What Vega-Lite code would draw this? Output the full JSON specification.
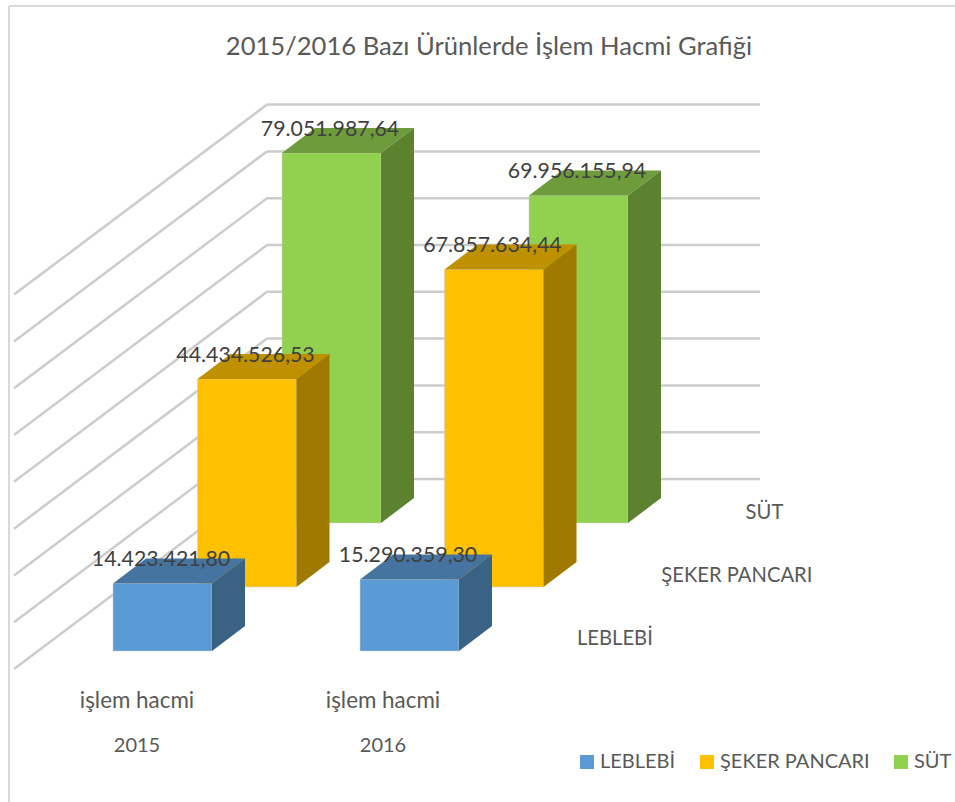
{"$schema":"https://vega.github.io/schema/vega-lite/v6.json","width":955,"height":802,"padding":0,"autosize":{"type":"none"},"background":"white",
"title":{"text":"2015/2016 Bazı Ürünlerde İşlem Hacmi Grafiği","anchor":"middle","frame":"group","dx":11.5,"dy":77,"font":"Lato","fontSize":25.6,"fontWeight":"normal","color":"#595959","baseline":"middle"},
"config":{"view":{"stroke":null}},
"datasets":{
"bars":[{"year":2015,"product":"SÜT","value":79051987.64},{"year":2016,"product":"SÜT","value":69956155.94},{"year":2015,"product":"ŞEKER PANCARI","value":44434526.53},{"year":2016,"product":"ŞEKER PANCARI","value":67857634.44},{"year":2015,"product":"LEBLEBİ","value":14423421.80},{"year":2016,"product":"LEBLEBİ","value":15290359.30}],
"grid":[{"v":0},{"v":10000000},{"v":20000000},{"v":30000000},{"v":40000000},{"v":50000000},{"v":60000000},{"v":70000000},{"v":80000000}],
"cats":[{"year":2015,"measure":"işlem hacmi"},{"year":2016,"measure":"işlem hacmi"}],
"prods":[{"product":"LEBLEBİ"},{"product":"ŞEKER PANCARI"},{"product":"SÜT"}]
},
"resolve":{"scale":{"color":"independent"}},
"layer":[
{"data":{"values":[{"a":0}]},"mark":{"type":"rule","color":"#D9D9D9","strokeWidth":2},"encoding":{"x":{"datum":9,"type":"quantitative","scale":{"domain":[0,955],"range":[0,955],"nice":false,"zero":false},"axis":null},"y":{"datum":137800000,"type":"quantitative","scale":{"domain":[-32260000,139100000],"range":[802,0],"nice":false,"zero":false},"axis":null},"y2":{"datum":-32260000}}},
{"data":{"values":[{"a":0}]},"mark":{"type":"rule","color":"#D9D9D9","strokeWidth":2},"encoding":{"x":{"datum":9,"type":"quantitative"},"x2":{"datum":955},"y":{"datum":137800000,"type":"quantitative"}}},
{"data":{"name":"grid"},"transform":[{"calculate":"datum.v-3850000","as":"ya"},{"calculate":"datum.v+36750000","as":"yb"},{"calculate":"14","as":"xa"},{"calculate":"267","as":"xb"}],"mark":{"type":"rule","color":"#CCCCCC","strokeWidth":2.5},"encoding":{"x":{"field":"xa","type":"quantitative"},"x2":{"field":"xb"},"y":{"field":"ya","type":"quantitative"},"y2":{"field":"yb"}}},
{"data":{"name":"grid"},"transform":[{"calculate":"datum.v+36750000","as":"yb"},{"calculate":"267","as":"xb"},{"calculate":"760","as":"xc"}],"mark":{"type":"rule","color":"#CCCCCC","strokeWidth":2.5},"encoding":{"x":{"field":"xb","type":"quantitative"},"x2":{"field":"xc"},"y":{"field":"yb","type":"quantitative"}}},
{"data":{"name":"bars"},"transform":[{"calculate":"indexof(['LEBLEBİ','ŞEKER PANCARI','SÜT'],datum.product)","as":"d"},{"calculate":"113+247*(datum.year-2015)+84.5*datum.d","as":"x0"},{"calculate":"datum.x0+99","as":"x1"},{"calculate":"13675000*datum.d","as":"base"},{"calculate":"datum.base+datum.value","as":"top"}],
"mark":{"type":"rect","strokeWidth":1,"strokeOpacity":0.5,"stroke":"#D0D0D0"},
"encoding":{"x":{"field":"x0","type":"quantitative"},"x2":{"field":"x1"},"y":{"field":"top","type":"quantitative"},"y2":{"field":"base"},
"color":{"field":"product","type":"nominal","scale":{"domain":["LEBLEBİ","ŞEKER PANCARI","SÜT"],"range":["#5B9BD5","#FFC000","#92D050"]},
"legend":{"title":null,"orient":"none","legendX":577,"legendY":752,"direction":"horizontal","columns":3,"symbolType":"square","symbolSize":196,"symbolStrokeWidth":0,"labelFont":"Lato","labelFontSize":20,"labelColor":"#595959","columnPadding":21,"labelOffset":3,"padding":0}}}},
{"data":{"name":"bars"},"transform":[{"calculate":"indexof(['LEBLEBİ','ŞEKER PANCARI','SÜT'],datum.product)","as":"d"},{"calculate":"[0,1]","as":"t"},{"flatten":["t"]},{"calculate":"113+247*(datum.year-2015)+84.5*datum.d+33*datum.t","as":"xa"},{"calculate":"datum.xa+99","as":"xb"},{"calculate":"13675000*datum.d+datum.value+5342000*datum.t","as":"yt"}],
"mark":{"type":"area","orient":"horizontal"},
"encoding":{"y":{"field":"yt","type":"quantitative","stack":null},"x":{"field":"xa","type":"quantitative","stack":null},"x2":{"field":"xb"},"detail":{"field":"year"},
"color":{"field":"product","type":"nominal","scale":{"domain":["LEBLEBİ","ŞEKER PANCARI","SÜT"],"range":["#44749F","#BF9000","#6E9C3C"]},"legend":null}}},
{"data":{"name":"bars"},"transform":[{"calculate":"indexof(['LEBLEBİ','ŞEKER PANCARI','SÜT'],datum.product)","as":"d"},{"calculate":"[0,1]","as":"t"},{"flatten":["t"]},{"calculate":"212+247*(datum.year-2015)+84.5*datum.d+33*datum.t","as":"xa"},{"calculate":"13675000*datum.d+5342000*datum.t","as":"yb"},{"calculate":"datum.yb+datum.value","as":"yt"}],
"mark":{"type":"area","orient":"vertical"},
"encoding":{"x":{"field":"xa","type":"quantitative","stack":null},"y":{"field":"yt","type":"quantitative","stack":null},"y2":{"field":"yb"},"detail":{"field":"year"},
"color":{"field":"product","type":"nominal","scale":{"domain":["LEBLEBİ","ŞEKER PANCARI","SÜT"],"range":["#3A6285","#A07A00","#5C8230"]},"legend":null}}},
{"data":{"name":"bars"},"transform":[{"calculate":"indexof(['LEBLEBİ','ŞEKER PANCARI','SÜT'],datum.product)","as":"d"},{"calculate":"161+247*(datum.year-2015)+84.5*datum.d","as":"xm"},{"calculate":"13675000*datum.d+datum.value+5000000","as":"yl"},{"calculate":"replace(replace(replace(format(datum.value,',.2f'),regexp(',','g'),'#'),'.',','),regexp('#','g'),'.')","as":"label"}],
"mark":{"type":"text","font":"Lato","fontSize":21.3,"color":"#404040","align":"center","baseline":"middle"},
"encoding":{"x":{"field":"xm","type":"quantitative"},"y":{"field":"yl","type":"quantitative"},"text":{"field":"label"}}},
{"data":{"name":"cats"},"transform":[{"calculate":"137+246*(datum.year-2015)","as":"xm"}],
"mark":{"type":"text","font":"Lato","fontSize":22.4,"color":"#595959","align":"center","baseline":"middle"},
"encoding":{"x":{"field":"xm","type":"quantitative"},"y":{"datum":-10600000,"type":"quantitative"},"text":{"field":"measure"}}},
{"data":{"name":"cats"},"transform":[{"calculate":"137+246*(datum.year-2015)","as":"xm"}],
"mark":{"type":"text","font":"Lato","fontSize":20,"color":"#595959","align":"center","baseline":"middle"},
"encoding":{"x":{"field":"xm","type":"quantitative"},"y":{"datum":-20200000,"type":"quantitative"},"text":{"field":"year","type":"nominal"}}},
{"data":{"name":"prods"},"transform":[{"calculate":"indexof(['LEBLEBİ','ŞEKER PANCARI','SÜT'],datum.product)","as":"d"},{"calculate":"577+84.3*datum.d","as":"xm"},{"calculate":"2600000+13425000*datum.d","as":"yl"}],
"mark":{"type":"text","font":"Lato","fontSize":20.2,"color":"#595959","align":"left","baseline":"middle"},
"encoding":{"x":{"field":"xm","type":"quantitative"},"y":{"field":"yl","type":"quantitative"},"text":{"field":"product"}}}
]}
